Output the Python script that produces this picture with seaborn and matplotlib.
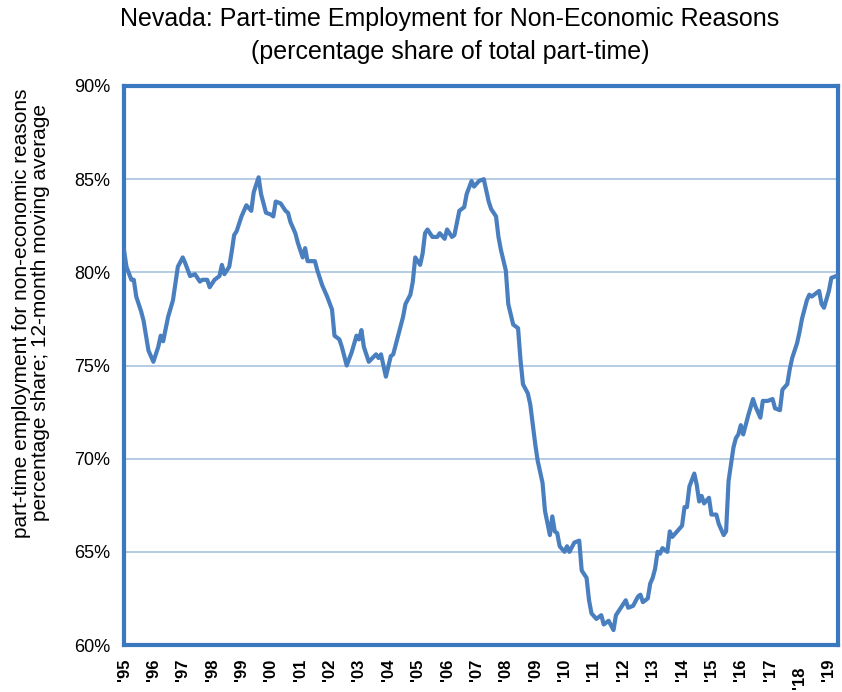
import numpy as np
import pandas as pd
import matplotlib
matplotlib.use("Agg")
import matplotlib.pyplot as plt
import matplotlib.transforms as mtransforms
import seaborn as sns

# months since Jan 1995 and the value (%)
month_index = [0, 1, 3, 4, 5, 7, 8, 10, 12, 14, 15, 16, 18, 20, 21, 22, 24, 25, 27, 29,
               31, 32, 34, 35, 37, 39, 40, 41, 43, 44, 45, 46, 48, 49, 50, 52, 53, 55, 56, 58,
               60, 61, 62, 64, 66, 67, 68, 70, 71, 73, 74, 75, 78, 79, 81, 83, 85, 86, 88, 89,
               91, 93, 95, 96, 97, 98, 100, 103, 104, 105, 107, 109, 110, 112, 114, 115, 117, 118, 119, 121,
               122, 123, 124, 126, 128, 129, 131, 132, 134, 135, 137, 139, 140, 142, 143, 145, 147, 149, 150, 152,
               153, 154, 156, 157, 159, 161, 162, 163, 165, 166, 168, 169, 171, 172, 174, 175, 176, 177, 178, 180,
               181, 182, 184, 186, 187, 189, 190, 191, 193, 195, 196, 198, 200, 201, 203, 205, 206, 208, 210, 211,
               212, 214, 215, 216, 217, 218, 219, 220, 222, 223, 224, 226, 228, 229, 230, 231, 233, 234, 235, 236,
               237, 239, 240, 242, 243, 245, 246, 247, 248, 249, 250, 251, 252, 253, 255, 257, 258, 260, 261, 263,
               265, 266, 268, 269, 271, 272, 273, 275, 276, 277, 279, 280, 281, 282, 284, 285, 286, 288, 289, 291]
share_pct = [81.2, 80.3, 79.6, 79.6, 78.7, 77.9, 77.4, 75.8, 75.2, 76.0, 76.6, 76.3, 77.6, 78.5, 79.4, 80.3, 80.8, 80.5, 79.8, 79.9,
             79.5, 79.6, 79.6, 79.2, 79.6, 79.8, 80.4, 79.9, 80.3, 81.1, 82.0, 82.2, 83.0, 83.3, 83.6, 83.3, 84.3, 85.1, 84.2, 83.2,
             83.1, 83.0, 83.8, 83.7, 83.3, 83.2, 82.7, 82.1, 81.6, 80.8, 81.3, 80.6, 80.6, 80.1, 79.3, 78.7, 78.0, 76.6, 76.4, 76.0,
             75.0, 75.7, 76.6, 76.4, 76.9, 76.0, 75.2, 75.6, 75.4, 75.6, 74.4, 75.5, 75.6, 76.6, 77.6, 78.3, 78.8, 79.5, 80.8, 80.4,
             81.0, 82.1, 82.3, 81.9, 81.9, 82.1, 81.8, 82.3, 81.9, 82.0, 83.3, 83.5, 84.2, 84.9, 84.6, 84.9, 85.0, 83.8, 83.4, 83.0,
             81.9, 81.2, 80.1, 78.3, 77.2, 77.0, 75.3, 74.0, 73.5, 72.9, 70.8, 69.9, 68.7, 67.2, 65.9, 66.9, 66.1, 66.0, 65.3, 65.0,
             65.3, 65.0, 65.5, 65.6, 64.0, 63.6, 62.4, 61.7, 61.4, 61.6, 61.1, 61.3, 60.8, 61.6, 62.0, 62.4, 62.0, 62.1, 62.6, 62.7,
             62.3, 62.5, 63.3, 63.6, 64.1, 65.0, 64.9, 65.2, 65.0, 66.1, 65.8, 66.1, 66.4, 67.4, 67.4, 68.5, 69.2, 68.6, 67.7, 68.0,
             67.6, 67.9, 67.0, 67.0, 66.5, 65.9, 66.1, 68.8, 69.7, 70.6, 71.1, 71.3, 71.8, 71.3, 72.3, 73.2, 72.8, 72.2, 73.1, 73.1,
             73.2, 72.7, 72.6, 73.7, 74.0, 74.8, 75.4, 76.2, 76.8, 77.5, 78.5, 78.8, 78.7, 78.8, 79.0, 78.3, 78.1, 79.0, 79.7, 79.8]

tick_years = list(range(1995, 2020))
tick_labels = ["'" + str(y)[2:] for y in tick_years]
y_ticks = [60, 65, 70, 75, 80, 85, 90]

title = "Nevada: Part-time Employment for Non-Economic Reasons\n(percentage share of total part-time)"
ylabel = "part-time employment for non-economic reasons\npercentage share; 12-month moving average"

df = pd.DataFrame({"year": 1995 + np.array(month_index) / 12.0, "share": share_pct})

sns.set_theme(style="white")
plt.rcParams["font.family"] = ["Liberation Sans", "DejaVu Sans"]
plt.rcParams["text.color"] = "black"
plt.rcParams["axes.labelcolor"] = "black"
plt.rcParams["xtick.labelcolor"] = "black"
plt.rcParams["ytick.labelcolor"] = "black"

blue_frame = "#3a78c0"
line_col = "#4a7fbf"
grid_col = "#a9c2e0"

fig = plt.figure(figsize=(8.42, 6.92), dpi=100)
ax = fig.add_axes([124 / 842, 1 - 645 / 692, (838 - 124) / 842, (645 - 86) / 692])

for yv in y_ticks[1:-1]:
    ax.axhline(yv, color=grid_col, lw=1.2, zorder=1)

sns.lineplot(data=df, x="year", y="share", ax=ax, color=line_col, lw=3.0, zorder=3)

ax.set_xlim(1995, 2019.31)
ax.set_ylim(60, 90)
ax.set_yticks(y_ticks)
ax.set_yticklabels([f"{v}%" for v in y_ticks], fontsize=13)
ax.set_xticks(tick_years)
ax.set_xticklabels(tick_labels, rotation=90, fontsize=12, fontweight="bold", va="top", ha="center")
ax.tick_params(axis="both", direction="out", length=6, width=1.3, color=blue_frame, pad=4,
               labelcolor="black")
ax.tick_params(axis="x", pad=4)
for s in ax.spines.values():
    s.set_color(blue_frame)
    s.set_linewidth(3)
ax.set_xlabel("")
ax.set_ylabel(ylabel, fontsize=15, linespacing=0.95, color="black")
ax.yaxis.set_label_coords(-0.104, 0.594)

# the '18 label sits a little lower in the original
for lbl in ax.get_xticklabels():
    if lbl.get_text() == "'18":
        lbl.set_transform(lbl.get_transform() + mtransforms.ScaledTranslation(0, -8 / 100, fig.dpi_scale_trans))

fig.text(450 / 842, 1 - 7 / 692, title, ha="center", va="top", fontsize=18, linespacing=1.5,
         color="black")

fig.savefig("out.png", dpi=100)
